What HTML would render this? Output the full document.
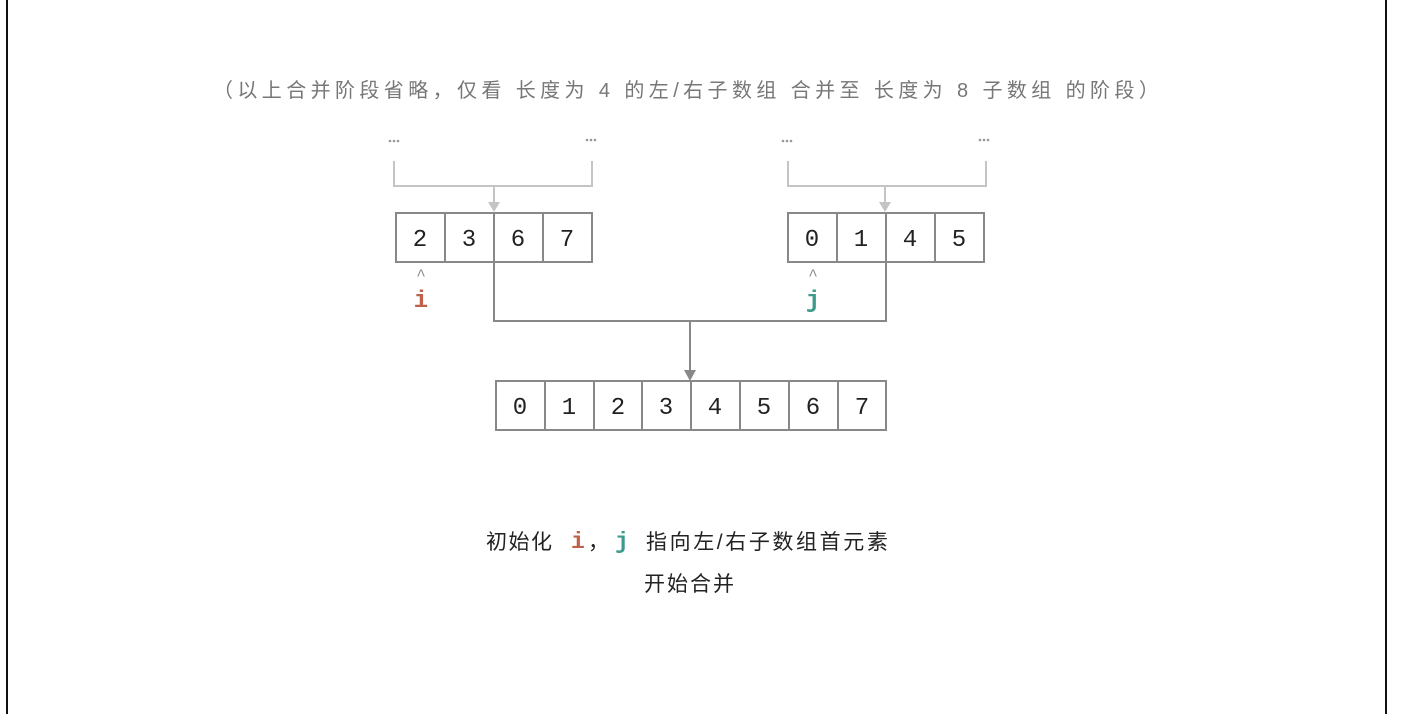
<!DOCTYPE html>
<html><head><meta charset="utf-8"><style>
body{margin:0;width:1406px;height:714px;background:#fff;overflow:hidden;position:relative;font-family:"Liberation Sans","Noto Sans CJK SC",sans-serif}
.t{position:absolute;white-space:nowrap}
.m{font-family:"Liberation Mono",monospace;font-weight:bold}
</style></head><body>
<div style="position:absolute;left:6px;top:0;width:2px;height:714px;background:#111"></div>
<div style="position:absolute;left:1385px;top:0;width:2px;height:714px;background:#111"></div>
<div class="t" style="left:213px;top:74px;font-size:20px;color:#777;letter-spacing:4.4px">（以上合并阶段省略，仅看 长度为 4 的左/右子数组 合并至 长度为 8 子数组 的阶段）</div>
<svg width="1406" height="714" style="position:absolute;left:0;top:0" font-family="Liberation Mono, DejaVu Sans Mono, monospace">
<g fill="#999">
<circle cx="390" cy="141" r="1.3"/><circle cx="394" cy="141" r="1.3"/><circle cx="398" cy="141" r="1.3"/>
<circle cx="587" cy="140" r="1.3"/><circle cx="591" cy="140" r="1.3"/><circle cx="595" cy="140" r="1.3"/>
<circle cx="783" cy="141" r="1.3"/><circle cx="787" cy="141" r="1.3"/><circle cx="791" cy="141" r="1.3"/>
<circle cx="980" cy="140" r="1.3"/><circle cx="984" cy="140" r="1.3"/><circle cx="988" cy="140" r="1.3"/>
</g>
<g stroke="#c4c4c4" stroke-width="2" fill="none">
<polyline points="394,161 394,186 592,186 592,161"/><line x1="494" y1="186" x2="494" y2="204"/>
<polyline points="788,161 788,186 986,186 986,161"/><line x1="885" y1="186" x2="885" y2="204"/>
</g>
<polygon points="488,202 500,202 494,212" fill="#c4c4c4"/>
<polygon points="879,202 891,202 885,212" fill="#c4c4c4"/>
<g stroke="#888" stroke-width="2" fill="none">
<polyline points="494,262 494,321 886,321 886,262"/><line x1="690" y1="321" x2="690" y2="372"/>
</g>
<polygon points="684,370 696,370 690,381" fill="#888"/>
<g stroke="#888" stroke-width="2" fill="#fff">
<rect x="396" y="213" width="196" height="49"/><line x1="445" y1="213" x2="445" y2="262"/><line x1="494" y1="213" x2="494" y2="262"/><line x1="543" y1="213" x2="543" y2="262"/>
<rect x="788" y="213" width="196" height="49"/><line x1="837" y1="213" x2="837" y2="262"/><line x1="886" y1="213" x2="886" y2="262"/><line x1="935" y1="213" x2="935" y2="262"/>
<rect x="496" y="381" width="390" height="49"/>
<line x1="545" y1="381" x2="545" y2="430"/><line x1="594" y1="381" x2="594" y2="430"/><line x1="642" y1="381" x2="642" y2="430"/><line x1="691" y1="381" x2="691" y2="430"/><line x1="740" y1="381" x2="740" y2="430"/><line x1="789" y1="381" x2="789" y2="430"/><line x1="838" y1="381" x2="838" y2="430"/>
</g>
<g font-size="24" fill="#222" text-anchor="middle">
<text x="420" y="246">2</text><text x="469" y="246">3</text><text x="518" y="246">6</text><text x="567" y="246">7</text>
<text x="812" y="246">0</text><text x="861" y="246">1</text><text x="910" y="246">4</text><text x="959" y="246">5</text>
<text x="520" y="414">0</text><text x="569" y="414">1</text><text x="618" y="414">2</text><text x="666" y="414">3</text><text x="715" y="414">4</text><text x="764" y="414">5</text><text x="813" y="414">6</text><text x="862" y="414">7</text>
</g>
<g font-size="16" fill="#888" text-anchor="middle"><text x="421" y="280">^</text><text x="813" y="280">^</text></g>
<text x="421" y="307" font-size="24" font-weight="bold" fill="#c0614b" text-anchor="middle">i</text>
<text x="813" y="307" font-size="24" font-weight="bold" fill="#3d9b8c" text-anchor="middle">j</text>
</svg>
<div class="t" style="left:486px;top:526px;font-size:21px;color:#222;letter-spacing:1.5px">初始化</div>
<div class="t m" style="left:571px;top:529px;font-size:23px;color:#c0614b">i</div>
<div class="t" style="left:588px;top:526px;font-size:21px;color:#222">，</div>
<div class="t m" style="left:615px;top:529px;font-size:23px;color:#3d9b8c">j</div>
<div class="t" style="left:646px;top:526px;font-size:21px;color:#222;letter-spacing:2.6px">指向左/右子数组首元素</div>
<div class="t" style="left:644px;top:568px;font-size:21px;color:#222;letter-spacing:2px">开始合并</div>
</body></html>
